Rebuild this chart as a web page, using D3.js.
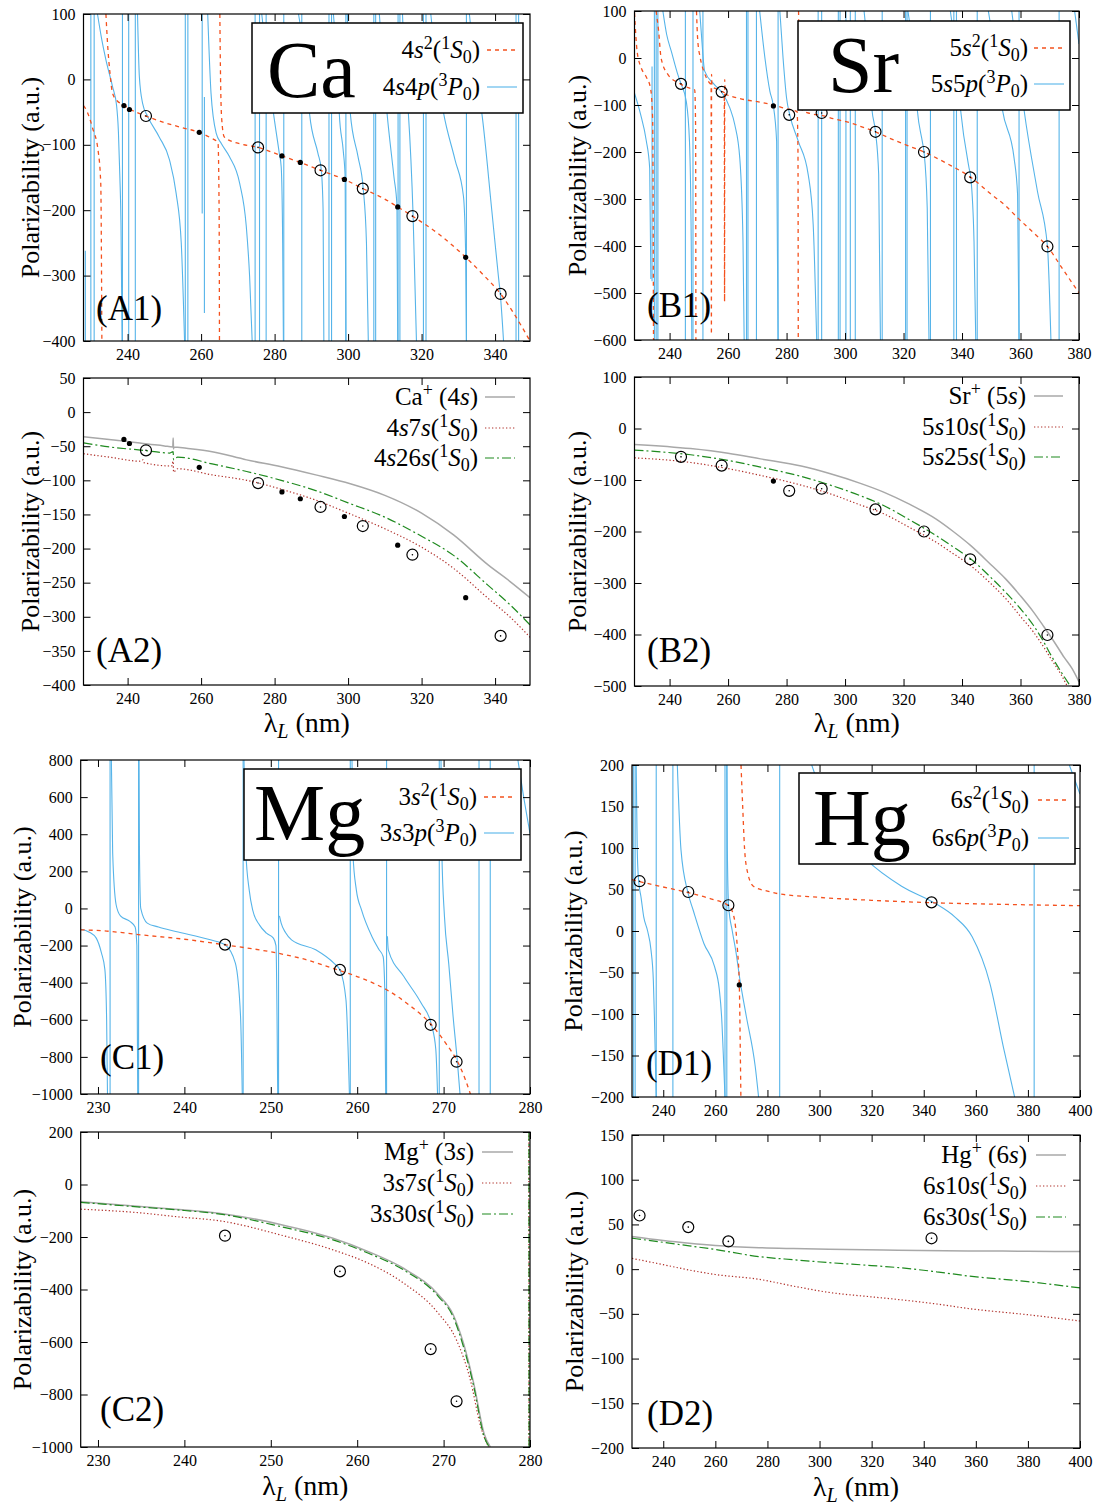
<!DOCTYPE html>
<html><head><meta charset="utf-8">
<script src="https://cdn.jsdelivr.net/npm/d3@7"></script>
<style>body{margin:0;background:#fff}svg{display:block}</style>
</head><body><svg id="c" width="1099" height="1505"></svg>
<script>
// ---------------- DATA ----------------
// Ca (A1 / A2)
const caRes = [230.0,230.9,238.6,240.3,242.1,255.7,256.4,274.7,275.9,277.7,282.5,287.4,294.8,295.5,299.4,307.0,307.5,313.6,314.1,320.5,321.2,332.2,345.7,346.4];
const caResPartial = [[228.5,-262,-400],[260.3,100,-205],[260.9,-27,-357]];
const caBranches = [
 [[231.8,100],[233,60],[234.1,30],[235.9,-11],[237.0,-40],[237.5,-80],[237.9,-150],[238.2,-220],[238.5,-400]],
 [[242.7,100],[243.2,4],[244.1,-37],[245.5,-57],[248.6,-88],[251.4,-123],[253.2,-174],[254.6,-250],[255.5,-400]],
 [[261.8,100],[262.7,-21],[264.1,-82],[265.5,-98],[267.7,-118],[270.5,-159],[272.3,-225],[273.2,-301],[273.9,-400]],
 [[276.5,100],[279.7,-52],[281.2,-110],[281.8,-134],[282.2,-250],[282.4,-400]],
 [[286.5,100],[288.5,20],[289.5,-52],[291.8,-113],[292.7,-138],[293.2,-200],[293.4,-400]],
 [[296,100],[297.2,0],[297.6,-52],[298.7,-110],[299.2,-150],[299.4,-400]],
 [[299.8,100],[300.3,0],[300.6,-52],[302.7,-118],[304.1,-166],[305,-250],[305.5,-400]],
 [[308.5,100],[309.8,0],[310.6,-52],[312.5,-150],[313.3,-193],[313.5,-400]],
 [[314.8,100],[315.6,0],[316.4,-52],[317.7,-210],[318.6,-400]],
 [[322.5,100],[324.5,0],[326,-52],[329.1,-123],[331.4,-179],[332,-271],[332.2,-400]],
 [[333,100],[335,0],[336.4,-52],[339.1,-200],[340.9,-301],[341.4,-327],[342.3,-400]]
];
const caOrange = [
 [[228,-40],[228.8,-47],[230.5,-75],[232.0,-110],[232.7,-160],[233.0,-400]],
 [[234.1,100],[234.6,50],[235.2,10],[235.9,-21],[237.2,-33],[238.6,-38],[240.5,-45],[245,-56],[250,-66],[255,-74],[259.5,-81],[262.5,-89],[264.6,-97],[264.9,-200],[265.0,-400]],
 [[265.1,100],[265.3,0],[265.6,-60],[266.3,-88],[268,-94],[271,-99],[275.5,-104],[282,-117],[287,-127],[292.5,-139],[299,-153],[304,-167],[310,-183],[313.5,-195],[317.5,-209],[325,-238],[332,-272],[337,-300],[341.5,-328],[345,-357],[349.5,-400]]
];
const caCircles = [[245,-56],[275.5,-104],[292.5,-139],[304,-167],[317.5,-209],[341.5,-328]];
const caDots = [[239,-40],[240.5,-46],[259.5,-81],[282,-117],[287,-127],[299,-153],[313.5,-195],[332,-272]];
const caIon = [[228,-36],[235,-40],[240,-43],[244.2,-46],[250,-49.5],[252.3,-51],[252.4,-38],[252.5,-54],[252.6,-51],[256,-53],[263,-58],[272.4,-70],[281.8,-80],[291.2,-92],[300.6,-105],[310,-122],[320,-148],[328.7,-180],[338.1,-224],[344,-248],[349.5,-272]];
const ca4s7s = [[228,-61],[235,-66],[243.5,-72],[244.2,-70],[244.4,-74],[252,-79],[252.4,-72],[252.5,-88],[253.6,-83],[263,-92],[272.4,-100],[281.8,-113],[291.2,-129],[300,-148],[310,-171],[320,-198],[328.7,-229],[338.1,-273],[344,-300],[349.5,-330]];
const ca4s26s = [[228,-45],[235,-51],[244.2,-56],[251.5,-60],[252.4,-58],[252.5,-70],[253.6,-66],[263,-76],[272.4,-87],[281.8,-100],[291.2,-115],[300,-133],[310,-154],[320,-182],[328.7,-210],[338.1,-254],[344,-282],[349.5,-312]];

// Sr (B1 / B2)
const srRes = [234.8,235.4,236.0,245.4,248.0,251.4,266.3,266.8,269.7,277.1,290.8,292.0,297.7,298.3,300.3,301.8,303.5,312.7,320.7,321.2,329.2,337.2,338.1,345.2,359.5,373.2];
const srResPartial = [[234.0,-18,-475]];
const srBranches = [
 [[228,-75],[230,-118],[232,-175],[233.2,-235],[233.6,-470]],
 [[237.7,100],[239,50],[240.6,14],[242.8,-35],[243.9,-55],[245.7,-92],[246.8,-177],[247.4,-390],[247.6,-600]],
 [[250.3,100],[251,40],[252,-28],[255.4,-57],[257.7,-72],[260.6,-106],[262.3,-142],[264,-213],[265.1,-390],[265.5,-600]],
 [[270.8,100],[272.6,0],[274.3,-71],[275.4,-99],[276.6,-177],[277.1,-600]],
 [[277.7,100],[278.8,0],[280,-85],[281.1,-121],[284,-177],[287.4,-248],[289.1,-354],[290.3,-600]],
 [[306.5,100],[308,0],[309.2,-110],[310.4,-157],[311.5,-248],[312.1,-600]],
 [[321.5,100],[323.5,0],[324.7,-110],[326.4,-177],[327,-200],[328.1,-319],[328.7,-600]],
 [[336,100],[338,0],[339.5,-110],[342.4,-234],[343,-254],[344.1,-390],[344.7,-600]],
 [[349,100],[351.5,0],[353.8,-110],[357.8,-213],[359,-291],[359.5,-600]],
 [[357,100],[359,0],[361.2,-110],[365.8,-284],[369.2,-400],[370.4,-600]],
 [[378.5,100],[380,30]]
];
const srOrange = [
 [[228,96],[228.9,14],[230.3,-21],[232,-40],[233.5,-65],[234.2,-130],[234.5,-600]],
 [[235.4,100],[236.2,60],[237.1,0],[239.4,-35],[243.4,-54],[246.3,-63],[248.6,-68],[248.9,-150],[249.0,-600]],
 [[249.2,100],[249.6,40],[250.5,0],[251.8,-30],[253.5,-52],[254.2,-58],[254.3,-588],[254.35,-35],[254.5,-60],[256,-66],[257.7,-71],[258.7,-74],[258.8,-518],[258.85,-46],[259,-76],[262,-83],[266,-89],[270,-93],[275.4,-100],[280,-108],[283.6,-114],[283.9,-200],[284.0,-600]],
 [[284.1,100],[284.3,0],[284.6,-90],[285.5,-112],[288,-118],[292,-122],[296,-129],[301.8,-138],[306,-147],[310.4,-157],[315,-170],[320,-183],[327,-200],[335,-225],[343,-254],[350,-290],[355,-315],[359,-340],[365,-375],[369.2,-401],[374,-445],[380,-500]]
];
const srCircles = [[243.9,-55],[257.8,-72],[280.9,-121],[292,-117],[310.4,-157],[327,-200],[342.8,-254],[369.2,-401]];
const srDots = [[275.5,-102]];
const srIon = [[228,-31],[247.2,-39],[260,-48],[271.1,-59],[285,-73],[295,-88],[305,-106],[313,-123],[322,-147],[330.9,-175],[337,-200],[342.9,-227],[350,-265],[354.9,-292],[360,-325],[364.4,-356],[368,-385],[371.6,-415],[375,-445],[377.6,-466],[380,-492]];
const sr5s10s = [[228,-57],[247.2,-66],[260,-78],[271.1,-91],[285,-110],[295,-127],[305,-148],[313,-165],[322,-192],[330.9,-220],[337,-243],[342.9,-266],[350,-302],[354.9,-330],[360,-365],[364.4,-395],[368,-425],[370.4,-447],[374,-479],[376.4,-505]];
const sr5s25s = [[228,-42],[247.2,-51],[260,-62],[271.1,-75],[285,-93],[295,-110],[305,-130],[313,-149],[322,-177],[330.9,-207],[337,-230],[342.9,-253],[350,-290],[354.9,-318],[360,-350],[364.4,-382],[368,-415],[370.4,-440],[372.5,-460],[374.6,-479],[377.6,-505]];

// Mg (C1 / C2)
const mgRes = [231.4,234.7,246.8,250.9,259.2,263.4,269.5,274.1,275.4];
const mgResPartial = [];
const mgBranches = [
 [[228,-112],[229,-128],[229.8,-160],[230.4,-240],[230.8,-330],[231.0,-600],[231.1,-1000]],
 [[231.55,800],[231.7,300],[232.1,20],[232.6,-40],[233.7,-70],[234.3,-100],[234.5,-200],[234.6,-1000]],
 [[234.75,800],[234.8,300],[234.95,0],[235.7,-79],[237,-100],[239,-124],[243,-169],[244.7,-196],[245.9,-295],[246.5,-582],[246.7,-1000]],
 [[246.9,800],[247.1,315],[247.5,100],[247.9,-8],[248.7,-90],[249.5,-133],[250.3,-160],[250.6,-200],[250.8,-1000]],
 [[251.0,-40],[251.2,-79],[251.7,-130],[252.4,-169],[255.2,-223],[257.3,-295],[258,-331],[258.7,-492],[259.1,-1000]],
 [[259.4,800],[259.5,300],[259.9,100],[260.5,-8],[261.7,-151],[262.5,-220],[263,-259],[263.2,-450],[263.3,-1000]],
 [[263.5,-150],[263.6,-223],[265.4,-367],[267.4,-510],[268.6,-627],[269.1,-761],[269.3,-1000]],
 [[269.7,800],[269.8,300],[270.1,-43],[270.6,-300],[271.1,-582],[271.6,-828],[271.9,-1000]],
 [[278.6,800],[279.2,620],[280,405]]
];
const mgOrange = [
 [[228,-115],[231,-122],[234.9,-142],[240,-166],[244.7,-196],[250.8,-241],[254,-275],[257.7,-331],[261,-385],[263.4,-438],[266,-520],[268.6,-627],[270.3,-730],[271.6,-824],[272.5,-920],[273.1,-1000]]
];
const mgCircles = [[244.7,-195],[258,-331],[268.5,-627],[271.5,-826]];
const mgDots = [];
const mgIon = [[228,-66],[234.9,-84],[238.9,-94],[244.6,-112],[251.1,-152],[257.2,-205],[261.3,-256],[265.4,-320],[269.4,-420],[271.1,-495],[272.3,-605],[273.5,-760],[274.7,-950],[275.4,-1000]];
const mg3s7s = [[228,-94],[234.9,-108],[238.9,-122],[244.6,-141],[251.1,-192],[257.2,-249],[261.3,-300],[265.4,-376],[269.4,-491],[271.5,-593],[273.1,-745],[274.3,-923],[275.2,-1000]];
const mg3s30s = [[228,-68],[234.9,-86],[238.9,-96],[244.6,-115],[251.1,-160],[257.2,-211],[261.3,-262],[265.4,-326],[269.4,-427],[271.1,-504],[272.3,-618],[273.5,-771],[274.7,-962],[275.3,-1000]];
const mg3s7sB = [[279.86,200],[279.87,-1000]];
const mg3s30sB = [[279.88,200],[279.89,-1000]];

// Hg (D1 / D2)
const hgRes = [228.5,229.2,237.3,243.7,263.7,264.4,284.7,382.4];
const hgResPartial = [];
const hgBranches = [
 [[229.6,200],[230.0,100],[230.5,62],[231.5,40],[232.5,17],[234,0],[235.3,-23],[236.2,-60],[236.6,-103],[237.0,-160],[237.3,-200]],
 [[245.4,200],[246.8,98],[249.5,46],[251.5,25],[255.6,-15],[259.7,-43],[261.5,-70],[262.4,-103],[263.2,-160],[263.7,-200]],
 [[264.45,200],[264.6,100],[265.1,30],[266.5,0],[267.8,-23],[269.5,-60],[271.9,-103],[275.3,-163],[276.6,-200]],
 [[297,200],[304.4,138],[318,86],[331.5,54],[344,34],[351.9,17],[358.6,-7],[365.4,-63],[370.8,-143],[374.9,-200]],
 [[395.9,200],[400,165]]
];
const hgOrange = [
 [[228,62],[230.9,59.6],[240,53],[249.5,46.3],[258,39],[265.1,30.3],[267.1,17.5],[268.5,-23],[269.2,-65],[269.6,-150],[269.8,-200]],
 [[269.85,200],[270.5,150],[271.2,100],[271.9,78],[274.6,54],[280,48],[284.1,45],[300,40.5],[320,37],[344,34],[372,32],[400,30.5]]
];
const hgCircles = [[230.9,60],[249.6,47],[265,31],[343,34.5]];
const hgDots = [[269.2,-65]];
const hgDots2 = [];
const hgIon = [[228,36.5],[240,32],[250,29],[260,26.5],[276.8,24],[290,23],[303.6,22.2],[330,21.1],[357,20.4],[380,20],[400,19.6]];
const hg6s10s = [[228,12],[240,5],[250,-1],[260,-6],[276.8,-11.4],[290,-19],[303.6,-26],[320,-31],[330.4,-34],[345,-39],[357,-44],[380,-51],[400,-58]];
const hg6s30s = [[228,34.6],[240,30],[250,26],[260,22],[276.8,14],[290,10.5],[303.6,7.3],[320,4],[330.4,1.7],[345,-3],[357,-7.6],[380,-14],[400,-21]];

// Tick values
const xTicksA = [240,260,280,300,320,340];
const xTicksB = [240,260,280,300,320,340,360,380];
const xTicksC = [230,240,250,260,270,280];
const xTicksD = [240,260,280,300,320,340,360,380,400];
const yTicksA1 = [-400,-300,-200,-100,0,100];
const yTicksB1 = [-600,-500,-400,-300,-200,-100,0,100];
const yTicksA2 = [-400,-350,-300,-250,-200,-150,-100,-50,0,50];
const yTicksB2 = [-500,-400,-300,-200,-100,0,100];
const yTicksC1 = [-1000,-800,-600,-400,-200,0,200,400,600,800];
const yTicksC2 = [-1000,-800,-600,-400,-200,0,200];
const yTicksD1 = [-200,-150,-100,-50,0,50,100,150,200];
const yTicksD2 = [-200,-150,-100,-50,0,50,100,150];

// Labels (markup: {x} italic, ^c superscript, _c subscript)
const topLegends = {
  Ca: ["4{s}^2(^1{S}_0)", "4{s}4{p}(^3{P}_0)"],
  Sr: ["5{s}^2(^1{S}_0)", "5{s}5{p}(^3{P}_0)"],
  Mg: ["3{s}^2(^1{S}_0)", "3{s}3{p}(^3{P}_0)"],
  Hg: ["6{s}^2(^1{S}_0)", "6{s}6{p}(^3{P}_0)"]
};
const botLegends = {
  Ca: ["Ca^+ (4{s})", "4{s}7{s}(^1{S}_0)", "4{s}26{s}(^1{S}_0)"],
  Sr: ["Sr^+ (5{s})", "5{s}10{s}(^1{S}_0)", "5{s}25{s}(^1{S}_0)"],
  Mg: ["Mg^+ (3{s})", "3{s}7{s}(^1{S}_0)", "3{s}30{s}(^1{S}_0)"],
  Hg: ["Hg^+ (6{s})", "6{s}10{s}(^1{S}_0)", "6{s}30{s}(^1{S}_0)"]
};
const yLabel = "Polarizability (a.u.)";
const xLabel = "λ_{L} (nm)";

// ---------------- RENDER ----------------
const FONT = '"Liberation Serif","Times New Roman",serif';
const BLUE = "#56b4e9", ORANGE = "#f4511e", GRAY = "#a8a8a8", RED = "#b0302a", GREEN = "#1f8a1f";
const LEGSIZE = 25;
const svg = d3.select("#c");
const defs = svg.append("defs");

function parse(str){
  const parts=[]; let i=0;
  while(i<str.length){
    const c=str[i];
    if(c==='{'){const j=str.indexOf('}',i);parts.push([str.slice(i+1,j),'i']);i=j+1;}
    else if(c==='^'||c==='_'){
      if(str[i+1]==='{'){const j=str.indexOf('}',i+1);parts.push([str.slice(i+2,j),c+'i']);i=j+1;}
      else{parts.push([str[i+1],c]);i+=2;}
    } else {let j=i;while(j<str.length&&!'{^_'.includes(str[j]))j++;parts.push([str.slice(i,j),'']);i=j;}
  }
  return parts;
}
function rich(parent,str,size,x,y,anchor){
  const t=parent.append("text").attr("x",x).attr("y",y).attr("font-size",size)
    .attr("font-family",FONT).attr("text-anchor",anchor||"start").attr("fill","#000");
  let cur=0;
  parse(str).forEach(([s,st])=>{
    let target=0,fs=size;
    if(st.includes('^')){target=-0.36*size;fs=size*0.72;}
    if(st.includes('_')){target=0.2*size;fs=size*0.72;}
    const ts=t.append("tspan").text(s).attr("dy",(target-cur).toFixed(2)).attr("font-size",fs.toFixed(2));
    if(st.includes('i'))ts.attr("font-style","italic");
    cur=target;
  });
  return t;
}
const fmt = d => d<0 ? "\u2212"+Math.abs(d) : String(d);

function setup(cfg){
  const x=d3.scaleLinear().domain(cfg.xd).range([cfg.l,cfg.r]);
  const y=d3.scaleLinear().domain(cfg.yd).range([cfg.b,cfg.t]);
  const cid="clip"+cfg.name;
  defs.append("clipPath").attr("id",cid).append("rect")
    .attr("x",cfg.l).attr("y",cfg.t).attr("width",cfg.r-cfg.l).attr("height",cfg.b-cfg.t);
  const g=svg.append("g");
  const plot=g.append("g").attr("clip-path",`url(#${cid})`);
  const line=d3.line().x(d=>x(d[0])).y(d=>y(d[1])).curve(d3.curveMonotoneX);
  return {x,y,g,plot,line};
}
function axes(cfg,P){
  const {x,y,g}=P;
  const list=[
    g.append("g").attr("transform",`translate(0,${cfg.b})`).call(d3.axisBottom(x).tickValues(cfg.xt).tickSize(-7).tickPadding(8).tickFormat(fmt)),
    g.append("g").attr("transform",`translate(0,${cfg.t})`).call(d3.axisTop(x).tickValues(cfg.xt).tickSize(-7).tickFormat("")),
    g.append("g").attr("transform",`translate(${cfg.l},0)`).call(d3.axisLeft(y).tickValues(cfg.yt).tickSize(-7).tickPadding(8).tickFormat(fmt)),
    g.append("g").attr("transform",`translate(${cfg.r},0)`).call(d3.axisRight(y).tickValues(cfg.yt).tickSize(-7).tickFormat(""))
  ];
  list.forEach(a=>{a.attr("font-family",FONT).attr("font-size",16);a.select(".domain").remove();
    a.selectAll("line").attr("stroke","#000");a.selectAll("text").attr("fill","#000");});
  g.append("rect").attr("x",cfg.l).attr("y",cfg.t).attr("width",cfg.r-cfg.l).attr("height",cfg.b-cfg.t)
    .attr("fill","none").attr("stroke","#000").attr("stroke-width",1.2);
  g.append("text").attr("transform",`translate(${cfg.ylx},${(cfg.t+cfg.b)/2}) rotate(-90)`)
    .attr("text-anchor","middle").attr("dominant-baseline","central").attr("font-family",FONT).attr("font-size",26).text(yLabel);
  if(cfg.xlabel) rich(g,xLabel,28,(cfg.l+cfg.r)/2,cfg.xly,"middle");
  g.append("text").attr("x",cfg.tagX).attr("y",cfg.tagY).attr("font-family",FONT).attr("font-size",35).text(cfg.tag);
}
function markers(P,circles,dots){
  const {x,y,plot}=P;
  plot.selectAll(null).data(circles).enter().append("circle").attr("cx",d=>x(d[0])).attr("cy",d=>y(d[1])).attr("r",5.5)
    .attr("fill","none").attr("stroke","#000").attr("stroke-width",1.2);
  plot.selectAll(null).data(circles).enter().append("circle").attr("cx",d=>x(d[0])).attr("cy",d=>y(d[1])).attr("r",0.8).attr("fill","#000");
  plot.selectAll(null).data(dots).enter().append("circle").attr("cx",d=>x(d[0])).attr("cy",d=>y(d[1])).attr("r",2.6).attr("fill","#000");
}
function drawTop(cfg,D){
  const P=setup(cfg); const {x,y,plot,line}=P;
  const yd=cfg.yd;
  plot.selectAll(null).data(D.res).enter().append("line").attr("x1",d=>x(d)).attr("x2",d=>x(d))
    .attr("y1",y(yd[1])).attr("y2",y(yd[0])).attr("stroke",BLUE).attr("stroke-width",1.1);
  plot.selectAll(null).data(D.partial).enter().append("line").attr("x1",d=>x(d[0])).attr("x2",d=>x(d[0]))
    .attr("y1",d=>y(d[1])).attr("y2",d=>y(d[2])).attr("stroke",BLUE).attr("stroke-width",1.1);
  plot.selectAll(null).data(D.branches).enter().append("path").attr("d",line).attr("fill","none").attr("stroke",BLUE).attr("stroke-width",1.1);
  plot.selectAll(null).data(D.orange).enter().append("path").attr("d",line).attr("fill","none").attr("stroke",ORANGE)
    .attr("stroke-width",1.3).attr("stroke-dasharray","4,4");
  markers(P,D.circles,D.dots);
  axes(cfg,P);
  const L=cfg.leg, g=P.g;
  g.append("rect").attr("x",L.x0).attr("y",L.y0).attr("width",L.x1-L.x0).attr("height",L.y1-L.y0)
    .attr("fill","#fff").attr("stroke","#000").attr("stroke-width",1.5);
  g.append("text").attr("x",L.ex).attr("y",L.ey).attr("font-family",FONT).attr("font-size",80).text(D.elem);
  const styles=[{c:ORANGE,dash:"4,4",w:1.3},{c:BLUE,dash:null,w:1.1}];
  D.legend.forEach((s,i)=>{
    const yy=L.ys[i];
    rich(g,s,LEGSIZE,L.tx,yy+8,"end");
    const ln=g.append("line").attr("x1",L.lx0).attr("x2",L.lx1).attr("y1",yy).attr("y2",yy)
      .attr("stroke",styles[i].c).attr("stroke-width",styles[i].w);
    if(styles[i].dash) ln.attr("stroke-dasharray",styles[i].dash);
  });
}
function drawBot(cfg,D){
  const P=setup(cfg); const {x,y,plot,line}=P;
  const st=[{c:GRAY,dash:null,w:1.5},{c:RED,dash:"1.3,2.2",w:1.2},{c:GREEN,dash:"9,3,2,3",w:1.2}];
  D.series.forEach((segs,i)=>{
    plot.selectAll(null).data(segs).enter().append("path").attr("d",line).attr("fill","none")
      .attr("stroke",st[i].c).attr("stroke-width",st[i].w).attr("stroke-dasharray",st[i].dash);
  });
  markers(P,D.circles,D.dots);
  axes(cfg,P);
  const L=cfg.leg, g=P.g;
  D.legend.forEach((s,i)=>{
    const yy=L.ys[i];
    rich(g,s,LEGSIZE,L.tx,yy+8,"end");
    const ln=g.append("line").attr("x1",L.lx0).attr("x2",L.lx1).attr("y1",yy).attr("y2",yy)
      .attr("stroke",st[i].c).attr("stroke-width",st[i].w);
    if(st[i].dash) ln.attr("stroke-dasharray",st[i].dash);
  });
}

// Row 1
drawTop({name:"A1",l:83.5,r:530,t:14,b:341,xd:[228,349.5],yd:[-400,100],xt:xTicksA,yt:yTicksA1,ylx:30,tag:"(A1)",tagX:96,tagY:320,
  leg:{x0:252,y0:23,x1:523,y1:113,ex:267,ey:97,tx:480,lx0:487,lx1:517,ys:[50,87]}},
  {res:caRes,partial:caResPartial,branches:caBranches,orange:caOrange,circles:caCircles,dots:caDots,elem:"Ca",legend:topLegends.Ca});
drawTop({name:"B1",l:634.5,r:1079,t:11,b:340,xd:[228,380],yd:[-600,100],xt:xTicksB,yt:yTicksB1,ylx:577,tag:"(B1)",tagX:647,tagY:317,
  leg:{x0:798,y0:21,x1:1070,y1:110,ex:828,ey:92,tx:1028,lx0:1034,lx1:1064,ys:[48,84]}},
  {res:srRes,partial:srResPartial,branches:srBranches,orange:srOrange,circles:srCircles,dots:srDots,elem:"Sr",legend:topLegends.Sr});
// Row 2
drawBot({name:"A2",l:83.5,r:530,t:378,b:685,xd:[228,349.5],yd:[-400,50],xt:xTicksA,yt:yTicksA2,ylx:30,tag:"(A2)",tagX:96,tagY:662,xlabel:true,xly:732,
  leg:{tx:478,lx0:485,lx1:515,ys:[397,428,458]}},
  {series:[[caIon],[ca4s7s],[ca4s26s]],circles:caCircles,dots:caDots,legend:botLegends.Ca});
drawBot({name:"B2",l:634.5,r:1079,t:377,b:686,xd:[228,380],yd:[-500,100],xt:xTicksB,yt:yTicksB2,ylx:577,tag:"(B2)",tagX:647,tagY:662,xlabel:true,xly:732,
  leg:{tx:1026,lx0:1034,lx1:1063,ys:[396,427,457]}},
  {series:[[srIon],[sr5s10s],[sr5s25s]],circles:srCircles,dots:srDots,legend:botLegends.Sr});
// Row 3
drawTop({name:"C1",l:80.7,r:530,t:760,b:1094,xd:[228,280],yd:[-1000,800],xt:xTicksC,yt:yTicksC1,ylx:22,tag:"(C1)",tagX:100,tagY:1069,
  leg:{x0:244,y0:769,x1:521,y1:860,ex:254,ey:840,tx:477,lx0:484,lx1:514,ys:[797,833]}},
  {res:mgRes,partial:mgResPartial,branches:mgBranches,orange:mgOrange,circles:mgCircles,dots:mgDots,elem:"Mg",legend:topLegends.Mg});
drawTop({name:"D1",l:632,r:1080,t:765,b:1097,xd:[228,400],yd:[-200,200],xt:xTicksD,yt:yTicksD1,ylx:573,tag:"(D1)",tagX:646,tagY:1075,
  leg:{x0:799,y0:773,x1:1075,y1:864,ex:813,ey:845,tx:1029,lx0:1038,lx1:1069,ys:[800,838]}},
  {res:hgRes,partial:hgResPartial,branches:hgBranches,orange:hgOrange,circles:hgCircles,dots:hgDots,elem:"Hg",legend:topLegends.Hg});
// Row 4
drawBot({name:"C2",l:80.7,r:530,t:1132,b:1447,xd:[228,280],yd:[-1000,200],xt:xTicksC,yt:yTicksC2,ylx:22,tag:"(C2)",tagX:100,tagY:1421,xlabel:true,xly:1495,
  leg:{tx:474,lx0:482,lx1:513,ys:[1152,1183,1214]}},
  {series:[[mgIon],[mg3s7s,mg3s7sB],[mg3s30s,mg3s30sB]],circles:mgCircles,dots:mgDots,legend:botLegends.Mg});
drawBot({name:"D2",l:632,r:1080,t:1135,b:1448,xd:[228,400],yd:[-200,150],xt:xTicksD,yt:yTicksD2,ylx:574,tag:"(D2)",tagX:647,tagY:1425,xlabel:true,xly:1496,
  leg:{tx:1027,lx0:1036,lx1:1066,ys:[1155,1186,1217]}},
  {series:[[hgIon],[hg6s10s],[hg6s30s]],circles:hgCircles,dots:hgDots2,legend:botLegends.Hg});
</script></body></html>
